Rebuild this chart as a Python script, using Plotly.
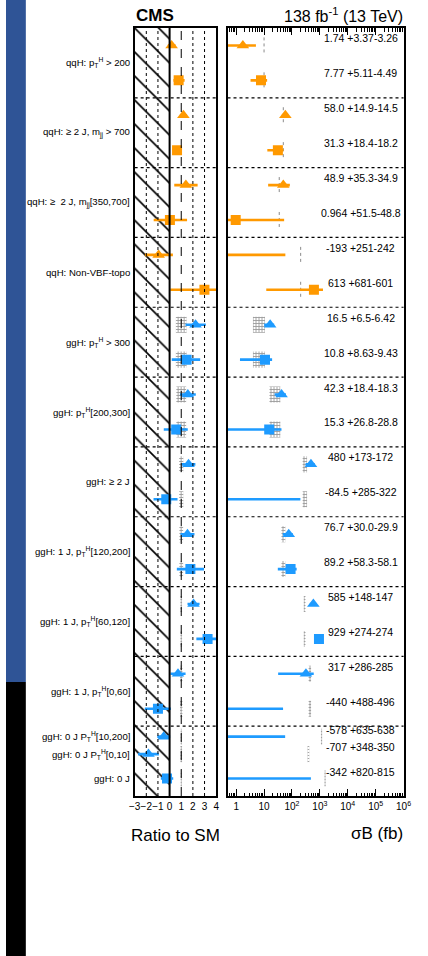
import plotly.graph_objects as go

W, H = 428, 956

# ---- categories (one block per STXS bin) ----
categories = [
    "qqH: p<sub>T</sub><sup>H</sup> > 200",
    "qqH: ≥ 2 J, m<sub>jj</sub> > 700",
    "qqH: ≥  2 J, m<sub>jj</sub>[350,700]",
    "qqH: Non-VBF-topo",
    "ggH: p<sub>T</sub><sup>H</sup> > 300",
    "ggH: p<sub>T</sub><sup>H</sup>[200,300]",
    "ggH: ≥ 2 J",
    "ggH: 1 J, p<sub>T</sub><sup>H</sup>[120,200]",
    "ggH: 1 J, p<sub>T</sub><sup>H</sup>[60,120]",
    "ggH: 1 J, p<sub>T</sub><sup>H</sup>[0,60]",
    "ggH: 0 J P<sub>T</sub><sup>H</sup>[10,200]",
    "ggH: 0 J P<sub>T</sub><sup>H</sup>[0,10]",
    "ggH: 0 J",
]
production_mode = ["qqH"] * 4 + ["ggH"] * 9
sm_xsec = [10, 49, 35, 205, 7.4, 27, 295, 50, 285, 440, 1150, 390, 1540]
sm_rel_unc = [0, 0, 0, 0, 0.46, 0.42, 0.18, 0.16, 0.07, 0.10, 0.05, 0.07, 0.05]

# ---- measurements ----
meas_category = [0, 0, 1, 1, 2, 2, 3, 3, 4, 4, 5, 5, 6, 6, 7, 7, 8, 8, 9, 9, 10, 11, 12]
meas_kind = ["tri", "sq"] * 10 + ["tri", "tri", "sq"]
sigma_b = ["1.74", "7.77", "58.0", "31.3", "48.9", "0.964", "-193", "613",
           "16.5", "10.8", "42.3", "15.3", "480", "-84.5", "76.7", "89.2",
           "585", "929", "317", "-440", "-578", "-707", "-342"]
err_up = ["3.37", "5.11", "14.9", "18.4", "35.3", "51.5", "251", "681",
          "6.5", "8.63", "18.4", "26.8", "173", "285", "30.0", "58.3",
          "148", "274", "286", "488", "635", "348", "820"]
err_down = ["3.26", "4.49", "14.5", "18.2", "34.9", "48.8", "242", "601",
            "6.42", "9.43", "18.3", "28.8", "172", "322", "29.9", "58.1",
            "147", "274", "285", "496", "638", "350", "815"]

ratio_ticks = [-3, -2, -1, 0, 1, 2, 3, 4]
xsec_ticks = [1, 10, 100, 1e3, 1e4, 1e5, 1e6]
xsec_ticktext = ["1", "10", "10<sup>2</sup>", "10<sup>3</sup>", "10<sup>4</sup>",
                 "10<sup>5</sup>", "10<sup>6</sup>"]

# ---- layout helpers ----
FONT = "Liberation Sans, Arial, Helvetica, sans-serif"
COLORS = {"qqH": "#ff9900", "ggH": "#1e9bff"}
SYMBOLS = {"tri": "triangle-up", "sq": "square"}
SIZES = {"tri": 11, "sq": 10}
N_ROWS = 22
row_y = [i + 0.5 for i in range(20)] + [20.3, 20.8, 21.5]
label_y = [2 * k + 1 for k in range(10)] + [20.3, 20.8, 21.5]
RATIO_RANGE = [-3, 4]
LOG_RANGE = [-0.31, 6.0]
HALF_H = 0.23


def px(x):
    return x / W


def py(y):
    return 1 - y / H


fig = go.Figure()

# hatched unphysical region
fig.add_trace(go.Scatter(
    x=[-3, 0, 0, -3, -3], y=[0, 0, N_ROWS, N_ROWS, 0], mode="lines",
    fill="toself", fillcolor="rgba(0,0,0,0)", line=dict(width=0),
    fillpattern=dict(shape="\\", size=17, solidity=0.1, fgcolor="black",
                     fgopacity=1, bgcolor="rgba(0,0,0,0)"),
    hoverinfo="skip", showlegend=False, xaxis="x", yaxis="y"))

# SM uncertainty bands (ggH bins)
box_lx, box_ly, box_rx, box_ry = [], [], [], []
for m, cat in enumerate(meas_category):
    u = sm_rel_unc[cat]
    if production_mode[cat] != "ggH":
        continue
    y0, y1 = row_y[m] - HALF_H, row_y[m] + HALF_H
    a, b = 1 - u, 1 + u
    box_lx += [a, b, b, a, a, None]
    box_ly += [y0, y0, y1, y1, y0, None]
    s = sm_xsec[cat]
    box_rx += [s * a, s * b, s * b, s * a, s * a, None]
    box_ry += [y0, y0, y1, y1, y0, None]

band_style = dict(mode="lines", fill="toself", fillcolor="rgba(255,255,255,0)",
                  line=dict(width=0),
                  fillpattern=dict(shape="+", size=3, solidity=0.5,
                                   fgcolor="#999999", fgopacity=1, bgcolor="white"),
                  hoverinfo="skip", showlegend=False)
fig.add_trace(go.Scatter(x=box_lx, y=box_ly, xaxis="x", yaxis="y", **band_style))
fig.add_trace(go.Scatter(x=box_rx, y=box_ry, xaxis="x2", yaxis="y2", **band_style))

# SM prediction markers (qqH bins)
sm_x, sm_y = [], []
for m, cat in enumerate(meas_category):
    if production_mode[cat] != "qqH":
        continue
    sm_x += [sm_xsec[cat], sm_xsec[cat], None]
    sm_y += [row_y[m] - HALF_H, row_y[m] + HALF_H, None]
fig.add_trace(go.Scatter(x=sm_x, y=sm_y, mode="lines",
                         line=dict(width=1, color="#8a8a8a", dash="dot"),
                         hoverinfo="skip", showlegend=False, xaxis="x2", yaxis="y2"))

# measurements: error bars then markers, per production mode
log_floor = 10 ** (LOG_RANGE[0] - 1)
for mode in ["qqH", "ggH"]:
    col = COLORS[mode]
    lx, ly, rx, ry = [], [], [], []
    for m, cat in enumerate(meas_category):
        if production_mode[cat] != mode:
            continue
        v, up, dn, s = float(sigma_b[m]), float(err_up[m]), float(err_down[m]), sm_xsec[cat]
        lx += [(v - dn) / s, (v + up) / s, None]
        ly += [row_y[m], row_y[m], None]
        hi = v + up
        if hi > 0:
            rx += [max(v - dn, log_floor), hi, None]
            ry += [row_y[m], row_y[m], None]
    fig.add_trace(go.Scatter(x=lx, y=ly, mode="lines", line=dict(width=2.6, color=col),
                             hoverinfo="skip", showlegend=False, xaxis="x", yaxis="y"))
    fig.add_trace(go.Scatter(x=rx, y=ry, mode="lines", line=dict(width=2.6, color=col),
                             hoverinfo="skip", showlegend=False, xaxis="x2", yaxis="y2"))
    for kind in ["tri", "sq"]:
        idx = [m for m, c in enumerate(meas_category)
               if production_mode[c] == mode and meas_kind[m] == kind]
        mk = dict(symbol=SYMBOLS[kind], size=SIZES[kind], color=col, line=dict(width=0))
        fig.add_trace(go.Scatter(
            x=[float(sigma_b[m]) / sm_xsec[meas_category[m]] for m in idx],
            y=[row_y[m] for m in idx], mode="markers", marker=mk,
            showlegend=False, xaxis="x", yaxis="y"))
        pos = [m for m in idx if float(sigma_b[m]) > 0]
        fig.add_trace(go.Scatter(
            x=[float(sigma_b[m]) for m in pos], y=[row_y[m] for m in pos],
            mode="markers", marker=mk, showlegend=False, xaxis="x2", yaxis="y2"))

# ---- reference lines ----
shapes = [
    dict(type="rect", xref="paper", yref="paper", x0=0, x1=px(20.5), y0=py(682), y1=1,
         fillcolor="#2f5496", line=dict(width=0), layer="below"),
    dict(type="rect", xref="paper", yref="paper", x0=0, x1=px(20.5), y0=0, y1=py(682),
         fillcolor="black", line=dict(width=0), layer="below"),
]
for xv in [-2, -1, 1, 2, 3]:
    shapes.append(dict(type="line", xref="x", yref="y domain", x0=xv, x1=xv, y0=0, y1=1,
                       line=dict(color="black", width=1, dash="dash" if xv == 1 else "dot")))
shapes.append(dict(type="line", xref="x", yref="y domain", x0=0, x1=0, y0=0, y1=1,
                   line=dict(color="black", width=2)))
for yv in range(2, 21, 2):
    for ax, ay in [("x domain", "y"), ("x2 domain", "y2")]:
        shapes.append(dict(type="line", xref=ax, yref=ay, x0=0, x1=1, y0=yv, y1=yv,
                           line=dict(color="black", width=1.2, dash="dot")))

# ---- text ----
annotations = []
for k, name in enumerate(categories):
    annotations.append(dict(text=name, xref="paper", yref="y", x=px(130.5), y=label_y[k],
                            xanchor="right", yanchor="middle", showarrow=False,
                            font=dict(size=9.6, color="black", family=FONT)))
for m in range(len(sigma_b)):
    annotations.append(dict(text=f"{sigma_b[m]} +{err_up[m]}-{err_down[m]}",
                            xref="paper", yref="y", x=px(367), y=row_y[m] - 0.2,
                            xanchor="center", yanchor="middle", showarrow=False,
                            font=dict(size=10.5, color="black", family=FONT)))
annotations += [
    dict(text="<b>CMS</b>", xref="paper", yref="paper", x=px(132), y=py(15),
         xanchor="left", yanchor="middle", showarrow=False,
         font=dict(size=17, color="black", family=FONT)),
    dict(text="138 fb<sup>-1</sup> (13 TeV)", xref="paper", yref="paper", x=px(413), y=py(15),
         xanchor="right", yanchor="middle", showarrow=False,
         font=dict(size=16, color="black", family=FONT)),
    dict(text="Ratio to SM", xref="paper", yref="paper", x=px(175), y=py(835),
         xanchor="center", yanchor="middle", showarrow=False,
         font=dict(size=17, color="black", family=FONT)),
    dict(text="σB (fb)", xref="paper", yref="paper", x=px(412), y=py(833),
         xanchor="right", yanchor="middle", showarrow=False,
         font=dict(size=17, color="black", family=FONT)),
]

ydom = [py(796), py(28)]
frame = dict(showline=True, linecolor="black", linewidth=2, mirror=True, showgrid=False,
             zeroline=False)
fig.update_layout(
    width=W, height=H, autosize=False,
    margin=dict(l=0, r=0, t=0, b=0, pad=0),
    paper_bgcolor="white", plot_bgcolor="rgba(0,0,0,0)",
    font=dict(family=FONT, color="black"),
    showlegend=False,
    xaxis=dict(domain=[px(133), px(217.3)], range=RATIO_RANGE, anchor="y",
               tickvals=ratio_ticks, ticks="", tickangle=0, tickfont=dict(size=10),
               **frame),
    yaxis=dict(domain=ydom, range=[N_ROWS, 0], anchor="x", showticklabels=False,
               ticks="", **frame),
    xaxis2=dict(domain=[px(229), px(411)], type="log", range=LOG_RANGE, anchor="y2",
                tickvals=xsec_ticks, ticktext=xsec_ticktext, ticks="inside", ticklen=7,
                tickwidth=1, tickcolor="black", tickangle=0, tickfont=dict(size=10),
                minor=dict(ticks="inside", ticklen=3.5, tickwidth=1, tickcolor="black",
                           dtick="D1", showgrid=False),
                showline=True, linecolor="black", linewidth=2, mirror="allticks",
                showgrid=False, zeroline=False),
    yaxis2=dict(domain=ydom, range=[N_ROWS, 0], anchor="x2", showticklabels=False,
                ticks="", **frame),
    shapes=shapes,
    annotations=annotations,
)

fig.write_html("out.html")
